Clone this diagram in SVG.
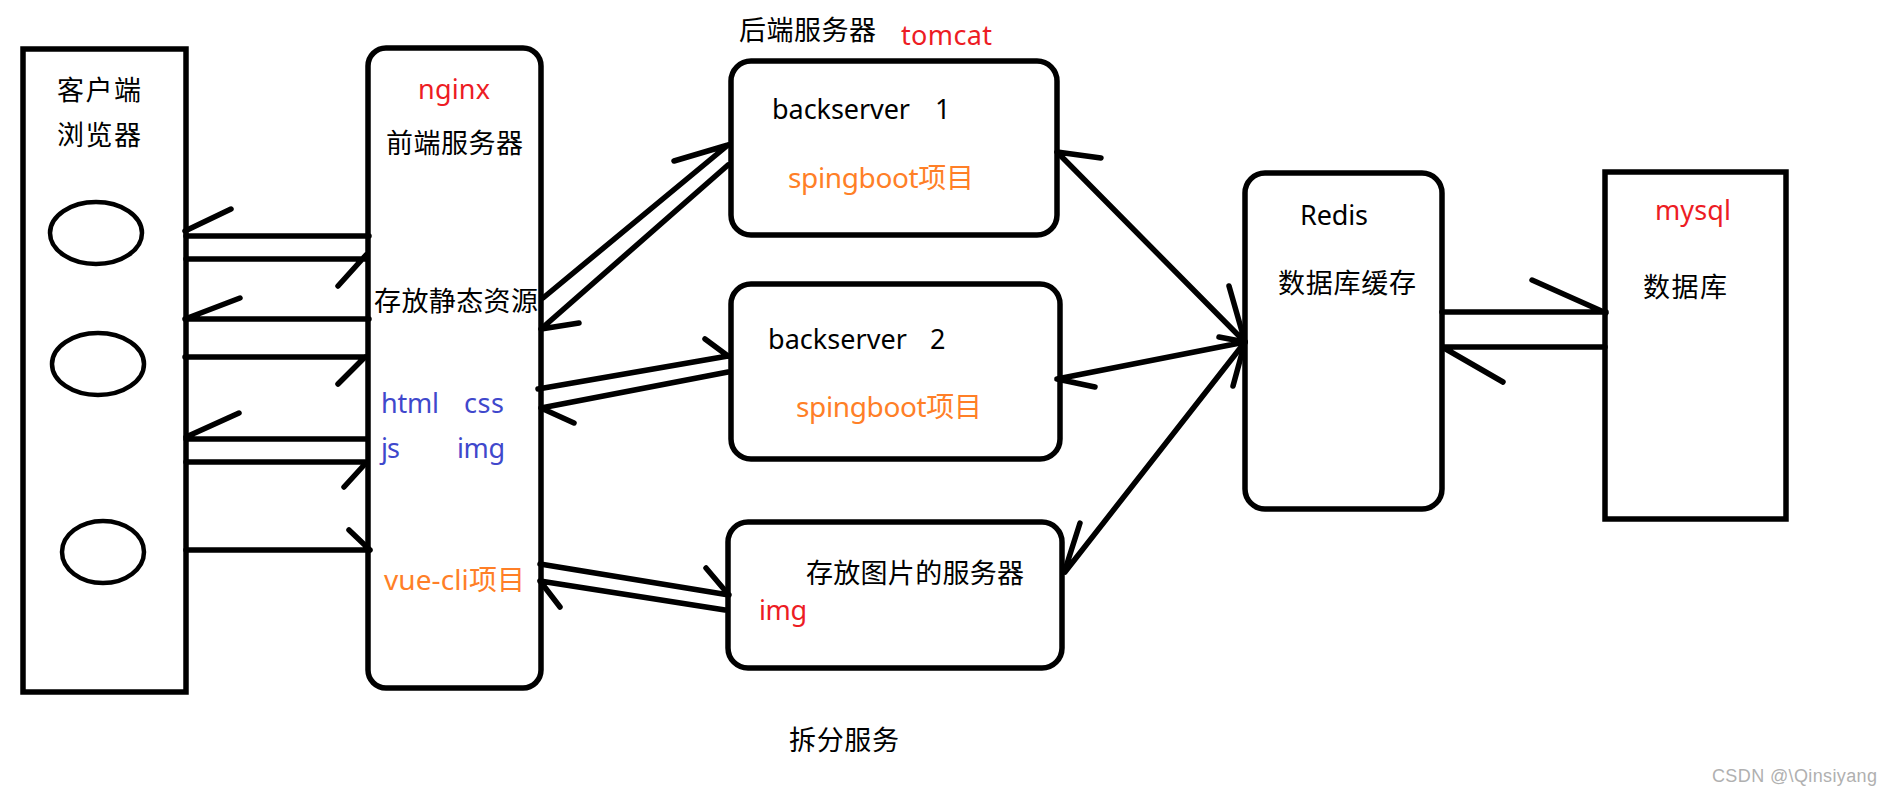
<svg xmlns="http://www.w3.org/2000/svg" width="1892" height="796" viewBox="0 0 1892 796">
<style>
.box{fill:none;stroke:#000;stroke-width:5.5}
.oval{fill:none;stroke:#000;stroke-width:4.5}
#connectors path{fill:none;stroke:#000;stroke-width:5.5;stroke-linecap:round}
text{font-family:"Noto Sans","Noto Sans CJK SC",sans-serif;font-size:27px;fill:#000}
.big{font-size:28px}
.red{fill:#ed1c24}.blue{fill:#3f48cc}.orange{fill:#ff7f27}
.wm{font-family:"Liberation Sans",sans-serif;font-size:18px;fill:#b0b0b0}
</style>
<rect width="1892" height="796" fill="#fff"/>
<g id="connectors">
<path d="M186 236H369M231 209L185 231"/>
<path d="M186 259H366M338 286L366 255"/>
<path d="M185 319H369M240 298L185 319"/>
<path d="M185 357H365M338 384L365 357"/>
<path d="M186 439H367M239 413L186 437"/>
<path d="M186 462H365M344 487L365 464"/>
<path d="M186 550H370M349 530L370 550"/>
<path d="M543 298L728 145M674 161L728 145"/>
<path d="M728 165L541 329M579 323L541 329"/>
<path d="M538 389L728 356M705 339L728 356"/>
<path d="M728 372L541 408M574 423L541 408"/>
<path d="M540 564L729 595M706 568L728 594"/>
<path d="M725 610L540 581M560 607L540 581"/>
<path d="M1057 152L1245 342M1101 158L1057 152M1229 286L1245 342"/>
<path d="M1057 379L1245 342M1095 387L1057 379M1219 337L1245 342M1233 386L1245 342"/>
<path d="M1065 572L1245 342M1080 523L1065 570"/>
<path d="M1442 312H1606M1532 280L1606 313"/>
<path d="M1605 347H1444M1503 382L1444 348"/>
</g>
<g id="client">
<rect class="box" x="23" y="49" width="163" height="643"/>
<text x="57" y="100" textLength="84">客户端</text>
<text x="57" y="145" textLength="84">浏览器</text>
<ellipse class="oval" cx="96" cy="233" rx="46" ry="31"/>
<ellipse class="oval" cx="98" cy="364" rx="46" ry="31"/>
<ellipse class="oval" cx="103" cy="552" rx="41" ry="31"/>
</g>
<g id="nginx">
<rect class="box" x="368" y="48" width="173" height="640" rx="18"/>
<text class="red" x="418" y="99" textLength="72">nginx</text>
<text x="386" y="153" textLength="137">前端服务器</text>
<text x="374" y="311" textLength="164">存放静态资源</text>
<text class="blue" x="381" y="413" textLength="58">html</text>
<text class="blue" x="464" y="413" textLength="40">css</text>
<text class="blue" x="381" y="458" textLength="19">js</text>
<text class="blue" x="457" y="458" textLength="48">img</text>
<text class="orange big" x="384" y="590" textLength="141">vue-cli项目</text>
</g>
<g id="backend-title">
<text x="739" y="40" textLength="137">后端服务器</text>
<text class="red" x="901" y="45" textLength="91">tomcat</text>
</g>
<g id="backserver1">
<rect class="box" x="731" y="61" width="326" height="174" rx="20"/>
<text x="772" y="119" textLength="138">backserver</text>
<text x="935" y="119">1</text>
<text class="orange big" x="788" y="188" textLength="186">spingboot项目</text>
</g>
<g id="backserver2">
<rect class="box" x="731" y="284" width="329" height="175" rx="20"/>
<text x="768" y="349" textLength="139">backserver</text>
<text x="930" y="349">2</text>
<text class="orange big" x="796" y="417" textLength="186">spingboot项目</text>
</g>
<g id="image-server">
<rect class="box" x="728" y="522" width="334" height="146" rx="20"/>
<text x="806" y="583" textLength="218">存放图片的服务器</text>
<text class="red" x="759" y="620" textLength="48">img</text>
</g>
<g id="split-label"><text x="789" y="750" textLength="110">拆分服务</text></g>
<g id="redis">
<rect class="box" x="1245" y="173" width="197" height="336" rx="20"/>
<text x="1300" y="225" textLength="68">Redis</text>
<text x="1278" y="293" textLength="138">数据库缓存</text>
</g>
<g id="mysql">
<rect class="box" x="1605" y="172" width="181" height="347"/>
<text class="red" x="1655" y="220" textLength="76">mysql</text>
<text x="1643" y="297" textLength="84">数据库</text>
</g>
<text class="wm" x="1712" y="782" textLength="165">CSDN @\Qinsiyang</text>
</svg>
